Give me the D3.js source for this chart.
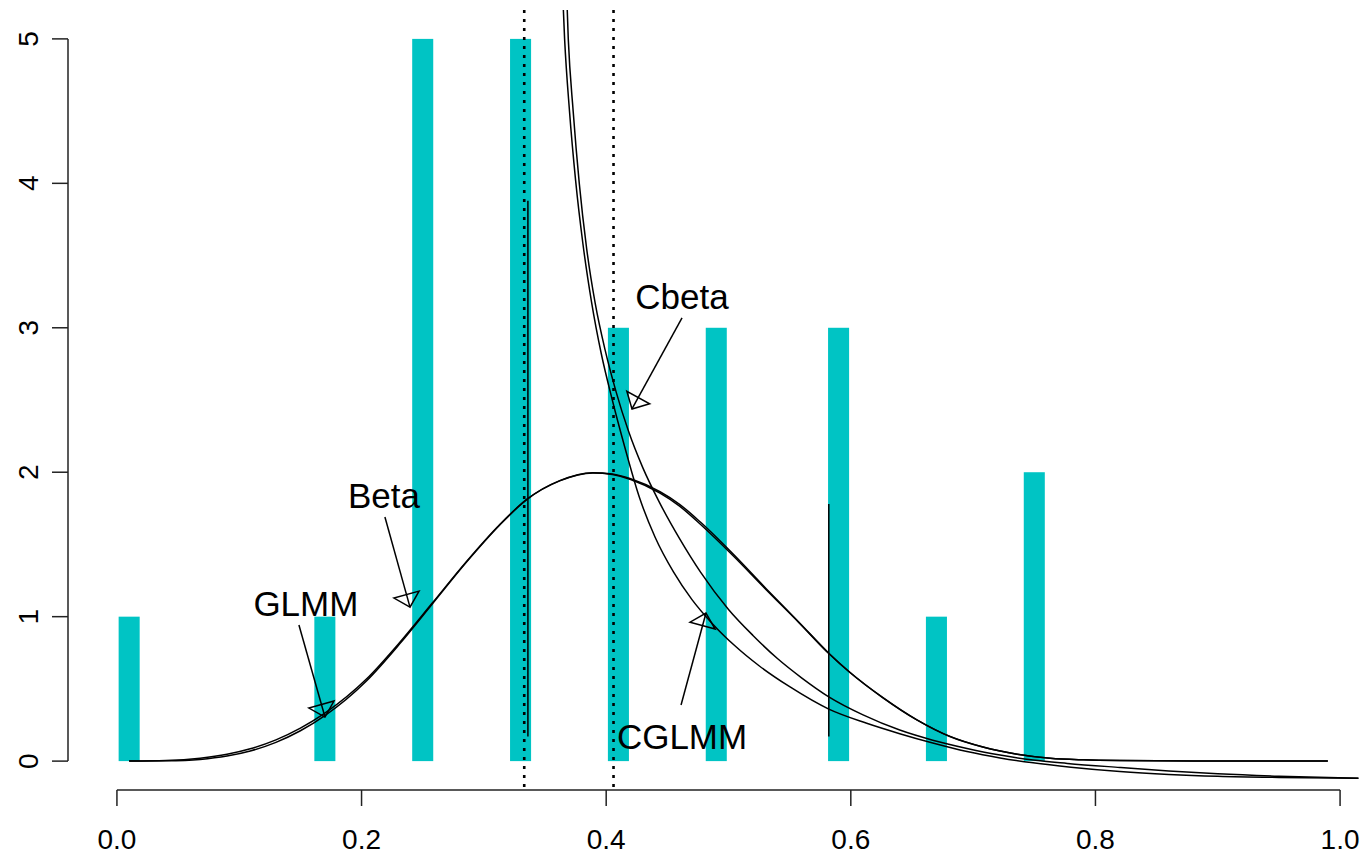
<!DOCTYPE html>
<html>
<head>
  <meta charset='utf-8'>
  <title>Densities</title>
  <style>
    body { margin: 0; background: #fff; }
    svg text { font-family: "Liberation Sans", Arial, sans-serif; fill: #000; }
  </style>
</head>
<body>
<div id="chart"></div>
<script src="https://d3js.org/d3.v7.min.js"></script>
<script>
  // observed proportions (bar positions) and their counts
  var barX = [0.01, 0.17, 0.25, 0.33, 0.41, 0.49, 0.59, 0.67, 0.75];
  var barCount = [1, 1, 5, 5, 3, 3, 3, 1, 2];

  // fitted densities
  var betaX = [0.01, 0.04, 0.068, 0.09, 0.109, 0.13, 0.15, 0.17, 0.204, 0.231, 0.258, 0.286, 0.313, 0.335, 0.362, 0.389, 0.405, 0.42, 0.444, 0.46, 0.477, 0.504, 0.531, 0.558, 0.582, 0.599, 0.626, 0.654, 0.681, 0.708, 0.736, 0.763, 0.79, 0.82, 0.88, 0.99];
  var betaY = [0, 0.002, 0.012, 0.035, 0.07, 0.13, 0.21, 0.315, 0.555, 0.81, 1.09, 1.38, 1.635, 1.81, 1.94, 1.995, 1.985, 1.95, 1.855, 1.765, 1.64, 1.42, 1.185, 0.955, 0.745, 0.615, 0.44, 0.285, 0.17, 0.097, 0.048, 0.02, 0.009, 0.004, 0.001, 0];
  var glmmY = [0, 0.004, 0.02, 0.047, 0.085, 0.147, 0.228, 0.332, 0.568, 0.82, 1.096, 1.384, 1.638, 1.812, 1.942, 1.997, 1.988, 1.955, 1.865, 1.778, 1.655, 1.432, 1.192, 0.958, 0.747, 0.617, 0.441, 0.286, 0.171, 0.098, 0.048, 0.02, 0.009, 0.004, 0.001, 0];

  var cbetaX = [0.3665, 0.369, 0.373, 0.378, 0.384, 0.391, 0.399, 0.408, 0.418, 0.43, 0.443, 0.46, 0.477, 0.50, 0.52, 0.54, 0.56, 0.582, 0.61, 0.64, 0.667, 0.695, 0.722, 0.749, 0.777, 0.82, 0.86, 0.90, 0.95, 1.015];
  var cbetaY = [5.6, 5.0, 4.5, 4.0, 3.55, 3.17, 2.85, 2.56, 2.29, 2.03, 1.80, 1.54, 1.31, 1.05, 0.87, 0.71, 0.575, 0.445, 0.32, 0.215, 0.145, 0.088, 0.042, 0.007, -0.016, -0.044, -0.068, -0.088, -0.105, -0.118];
  var cglmmX = [0.363, 0.366, 0.370, 0.375, 0.381, 0.388, 0.396, 0.405, 0.415, 0.427, 0.44, 0.455, 0.47, 0.487, 0.505, 0.525, 0.55, 0.582, 0.613, 0.64, 0.667, 0.695, 0.722, 0.749, 0.78, 0.82, 0.86, 0.90, 0.95, 1.015];
  var cglmmY = [5.6, 5.0, 4.5, 4.02, 3.58, 3.18, 2.82, 2.5, 2.18, 1.83, 1.55, 1.31, 1.12, 0.95, 0.80, 0.66, 0.515, 0.36, 0.262, 0.19, 0.125, 0.066, 0.022, -0.012, -0.042, -0.072, -0.092, -0.105, -0.113, -0.118];

  // reference lines
  var dottedX = [0.333, 0.406];
  var segX = [0.336, 0.582];
  var segLo = [0.17, 0.17];
  var segHi = [3.88, 1.78];

  // labels with arrows: label position, arrow start, arrow tip
  var labelText = ["Cbeta", "Beta", "GLMM", "CGLMM"];
  var labelX = [0.462, 0.2183, 0.1545, 0.462];
  var labelY = [3.213, 1.835, 1.087, 0.166];
  var arrowX0 = [0.462, 0.2191, 0.1488, 0.4612];
  var arrowY0 = [3.068, 1.690, 0.942, 0.388];
  var arrowX1 = [0.4211, 0.2396, 0.1701, 0.4816];
  var arrowY1 = [2.438, 1.066, 0.305, 1.025];

  var xTicks = [0, 0.2, 0.4, 0.6, 0.8, 1.0];
  var yTicks = [0, 1, 2, 3, 4, 5];

  var BAR_COLOR = "#00C4C4";
  var W = 1366, H = 855;

  var svg = d3.select("#chart").append("svg")
    .attr("width", W).attr("height", H);

  // plot region like R: xlim c(0,1), ylim c(0,5) with 4% padding
  var x = d3.scaleLinear().domain([-0.04, 1.04]).range([68, 1389]);
  var y = d3.scaleLinear().domain([-0.2, 5.2]).range([790, 10]);

  svg.append("defs").append("clipPath").attr("id", "plotclip")
    .append("rect")
    .attr("x", x(-0.04)).attr("y", y(5.2))
    .attr("width", x(1.04) - x(-0.04)).attr("height", y(-0.2) - y(5.2));

  var plot = svg.append("g").attr("clip-path", "url(#plotclip)");

  // bars
  var barW = 0.0172;
  plot.append("g").selectAll("rect")
    .data(barX)
    .enter().append("rect")
    .attr("x", function (d) { return x(d - barW / 2); })
    .attr("y", function (d, i) { return y(barCount[i]); })
    .attr("width", x(barW) - x(0))
    .attr("height", function (d, i) { return y(0) - y(barCount[i]); })
    .attr("fill", BAR_COLOR);

  // dotted vertical lines
  plot.append("g").selectAll("line")
    .data(dottedX)
    .enter().append("line")
    .attr("x1", function (d) { return x(d); })
    .attr("x2", function (d) { return x(d); })
    .attr("y1", y(5.2)).attr("y2", y(-0.2))
    .attr("stroke", "#000")
    .attr("stroke-width", 2.6)
    .attr("stroke-dasharray", "3,6");

  // solid segments
  plot.append("g").selectAll("line")
    .data(segX)
    .enter().append("line")
    .attr("x1", function (d) { return x(d); })
    .attr("x2", function (d) { return x(d); })
    .attr("y1", function (d, i) { return y(segLo[i]); })
    .attr("y2", function (d, i) { return y(segHi[i]); })
    .attr("stroke", "#000")
    .attr("stroke-width", 1.5);

  var line = d3.line()
    .x(function (d) { return x(d[0]); })
    .y(function (d) { return y(d[1]); })
    .curve(d3.curveMonotoneX);

  function addCurve(xs, ys) {
    plot.append("path")
      .datum(xs.map(function (v, i) { return [v, ys[i]]; }))
      .attr("d", line)
      .attr("fill", "none")
      .attr("stroke", "#000")
      .attr("stroke-width", 1.5);
  }
  addCurve(betaX, betaY);
  addCurve(betaX, glmmY);
  addCurve(cbetaX, cbetaY);
  addCurve(cglmmX, cglmmY);

  // arrows with open triangle heads
  var HEAD_LEN = 13, HEAD_HALF = 13;
  var ann = svg.append("g");
  labelText.forEach(function (t, i) {
    var px0 = x(arrowX0[i]), py0 = y(arrowY0[i]);
    var px1 = x(arrowX1[i]), py1 = y(arrowY1[i]);
    var dx = px1 - px0, dy = py1 - py0;
    var len = Math.sqrt(dx * dx + dy * dy);
    var ux = dx / len, uy = dy / len;
    var bx = px1 - ux * HEAD_LEN, by = py1 - uy * HEAD_LEN;
    ann.append("line")
      .attr("x1", px0).attr("y1", py0)
      .attr("x2", px1).attr("y2", py1)
      .attr("stroke", "#000").attr("stroke-width", 1.5);
    ann.append("polygon")
      .attr("points", [
        [px1, py1],
        [bx - uy * HEAD_HALF, by + ux * HEAD_HALF],
        [bx + uy * HEAD_HALF, by - ux * HEAD_HALF]
      ].map(function (p) { return p.join(","); }).join(" "))
      .attr("fill", "none")
      .attr("stroke", "#000").attr("stroke-width", 1.5);
    ann.append("text")
      .attr("x", x(labelX[i])).attr("y", y(labelY[i]))
      .attr("dy", "0.35em")
      .attr("text-anchor", "middle")
      .style("font-size", "35px")
      .text(t);
  });

  // x axis (R style: line from first to last tick)
  var xAxis = svg.append("g");
  xAxis.append("line")
    .attr("x1", x(xTicks[0])).attr("x2", x(xTicks[xTicks.length - 1]))
    .attr("y1", 790).attr("y2", 790)
    .attr("stroke", "#222").attr("stroke-width", 1.5);
  xAxis.selectAll("line.tick")
    .data(xTicks)
    .enter().append("line").attr("class", "tick")
    .attr("x1", function (d) { return x(d); })
    .attr("x2", function (d) { return x(d); })
    .attr("y1", 790).attr("y2", 806)
    .attr("stroke", "#222").attr("stroke-width", 1.5);
  xAxis.selectAll("text")
    .data(xTicks)
    .enter().append("text")
    .attr("x", function (d) { return x(d); })
    .attr("y", 849)
    .attr("text-anchor", "middle")
    .style("font-size", "28px")
    .text(function (d) { return d3.format(".1f")(d); });

  // y axis
  var yAxis = svg.append("g");
  yAxis.append("line")
    .attr("x1", 68).attr("x2", 68)
    .attr("y1", y(yTicks[0])).attr("y2", y(yTicks[yTicks.length - 1]))
    .attr("stroke", "#222").attr("stroke-width", 1.5);
  yAxis.selectAll("line.tick")
    .data(yTicks)
    .enter().append("line").attr("class", "tick")
    .attr("x1", 52).attr("x2", 68)
    .attr("y1", function (d) { return y(d); })
    .attr("y2", function (d) { return y(d); })
    .attr("stroke", "#222").attr("stroke-width", 1.5);
  yAxis.selectAll("text")
    .data(yTicks)
    .enter().append("text")
    .attr("transform", function (d) { return "translate(38," + y(d) + ") rotate(-90)"; })
    .attr("text-anchor", "middle")
    .style("font-size", "28px")
    .text(function (d) { return d; });
</script>
</body>
</html>
